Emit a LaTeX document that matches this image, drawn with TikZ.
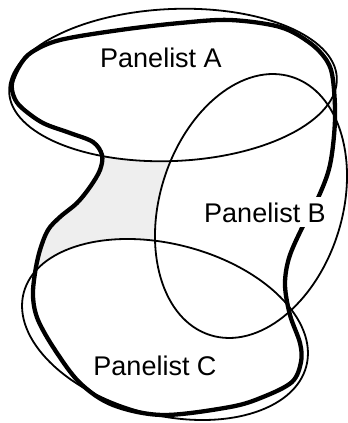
\documentclass[tikz,border=0pt]{standalone}
\usepackage{fontspec}
\setmainfont{Liberation Sans}
\definecolor{shadegray}{HTML}{EEEEEE}
\begin{document}
\begin{tikzpicture}[x=1bp,y=1bp,
  thinline/.style={line width=1.8bp},
  thickline/.style={line width=4.3bp},
  lab/.style={font=\fontsize{27bp}{32bp}\selectfont, anchor=base, inner sep=0pt}]
\useasboundingbox (0,0) rectangle (348,423);
\def\thickpath{plot[smooth cycle, tension=0.55] coordinates {
 (120,393) (180,400) (230,403) (280,396) (310,380) (327,362) (333,343) (335,303)
 (330,258) (318,225) (302,195) (289,165) (285,138) (290,108) (300,80) (301,61)
 (292,41)
 (263,26) (230,16) (163,8) (113,18) (80,40) (55,73) (38,103) (33,126) (35,150)
 (40,173) (48,193) (60,206) (77,220) (90,236) (100,253) (102,268) (93,281)
 (70,290) (43,300) (22,315) (14,326) (12,340) (20,358) (32,371) (60,383)}}
% shaded gap region
\fill[shadegray] \thickpath;
\fill[white, rotate around={2.5:(173,338)}] (173,338) ellipse [x radius=164, y radius=76];
\fill[white, rotate around={72.4:(251,217)}] (251,217) ellipse [x radius=135.4, y radius=91.1];
\fill[white, rotate around={-14.5:(165,93.5)}] (165,93.5) ellipse [x radius=146, y radius=85.5];
% outlines
\draw[thinline, rotate around={2.5:(173,338)}] (173,338) ellipse [x radius=164, y radius=76];
\draw[thinline, rotate around={72.4:(251,217)}] (251,217) ellipse [x radius=135.4, y radius=91.1];
\draw[thinline, rotate around={-14.5:(165,93.5)}] (165,93.5) ellipse [x radius=146, y radius=85.5];
\draw[thickline] \thickpath;
% labels
\node[lab] (la) at (161,356) {Panelist A};
\node[lab, fill=white, inner sep=5bp] (lb) at (265,201) {Panelist B};
\node[lab] (lc) at (155,48) {Panelist C};
\end{tikzpicture}
\end{document}
